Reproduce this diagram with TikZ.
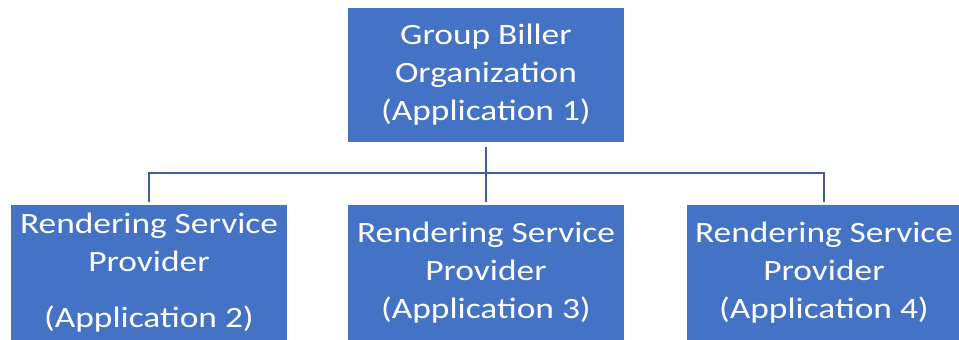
\documentclass[tikz,border=0pt]{standalone}
\usepackage{fontspec}
\usepackage{xcolor}
\usepackage{tikz}
\usetikzlibrary{positioning,calc}
\newfontfamily\boxfont[FakeStretch=1.2]{Carlito}
\definecolor{officeblue}{HTML}{4472C4}
\definecolor{wire}{HTML}{3F5E9B}
\tikzset{
  orgbox/.style={fill=officeblue,text=white,inner sep=0pt,minimum width=276pt,
    minimum height=136pt,align=center,font=\boxfont\fontsize{29.5}{38}\selectfont},
  link/.style={draw=wire,line width=1.7pt}
}
\begin{document}
\begin{tikzpicture}[x=1pt,y=-1pt]
\clip (0,0) rectangle (959,340);
\node[orgbox,minimum height=134pt] (gbo) at (486,75) {Group Biller\\Organization\\(Application 1)};
\node[orgbox] (rsp2) at (149,273) {Rendering Service\\Provider\\[18pt](Application 2)};
\node[orgbox] (rsp3) at (486,273) {Rendering Service\\Provider\\(Application 3)};
\node[orgbox,minimum width=274pt] (rsp4) at (824,273) {Rendering Service\\Provider\\(Application 4)};
% connectors
\coordinate (hub) at (486,173);
\draw[link] ([yshift=-5pt]gbo.south) -- ([yshift=3pt]rsp3.north);
\draw[link] ([yshift=3pt]rsp2.north) |- (hub) -| ([yshift=3pt]rsp4.north);
\end{tikzpicture}
\end{document}
